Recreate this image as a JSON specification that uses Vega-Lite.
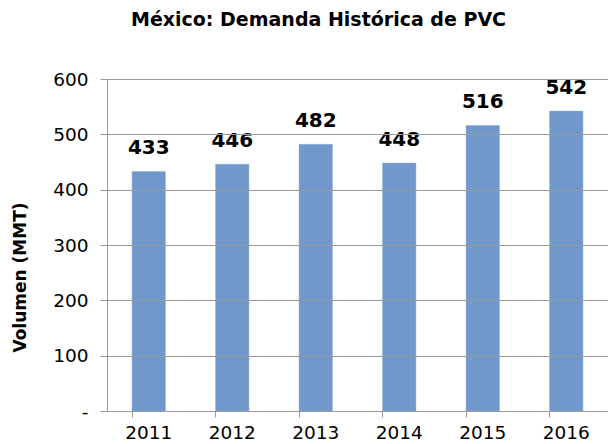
{
  "$schema": "https://vega.github.io/schema/vega-lite/v6.json",
  "autosize": "none",
  "width": 501,
  "height": 332,
  "padding": {"left": 107, "top": 79, "right": 0, "bottom": 33},
  "background": "white",
  "title": {
    "text": "México: Demanda Histórica de PVC",
    "font": "DejaVu Sans",
    "fontSize": 19,
    "fontWeight": "bold",
    "color": "#000000",
    "anchor": "middle",
    "dx": -39,
    "offset": 40,
    "frame": "group"
  },
  "config": {
    "view": {"stroke": null},
    "title": {"orient": "top"}
  },
  "data": {
    "values": [
      {"year": "2011", "value": 433},
      {"year": "2012", "value": 446},
      {"year": "2013", "value": 482},
      {"year": "2014", "value": 448},
      {"year": "2015", "value": 516},
      {"year": "2016", "value": 542}
    ]
  },
  "encoding": {
    "x": {
      "field": "year",
      "type": "nominal",
      "scale": {"paddingInner": 0.6, "paddingOuter": 0.3},
      "axis": {
        "title": null,
        "labelAngle": 0,
        "labelFont": "DejaVu Sans",
        "labelFontSize": 18.5,
        "labelColor": "#000000",
        "labelPadding": 6,
        "bandPosition": 0,
        "tickSize": 6,
        "tickColor": "#999999",
        "domainColor": "#999999",
        "grid": false
      }
    },
    "y": {
      "field": "value",
      "type": "quantitative",
      "scale": {"domain": [0, 600], "nice": false},
      "axis": {
        "title": "Volumen (MMT)",
        "titleFont": "DejaVu Sans",
        "titleFontSize": 17,
        "titleFontWeight": "bold",
        "titleColor": "#000000",
        "titleAngle": -90,
        "titleX": -87,
        "titleY": 198,
        "titleAlign": "center",
        "titleBaseline": "middle",
        "values": [0, 100, 200, 300, 400, 500, 600],
        "labelExpr": "datum.value == 0 ? '-' : datum.label",
        "labelFont": "DejaVu Sans",
        "labelFontSize": 18.5,
        "labelColor": "#000000",
        "labelPadding": 12,
        "tickSize": 7,
        "tickColor": "#999999",
        "domainColor": "#999999",
        "grid": true,
        "gridColor": "#999999",
        "gridWidth": 1,
        "zindex": 1
      }
    }
  },
  "layer": [
    {
      "mark": {"type": "bar", "color": "#7098CB", "stroke": "#8AAEDB", "strokeWidth": 0.5}
    },
    {
      "mark": {
        "type": "text",
        "font": "DejaVu Sans",
        "fontSize": 20,
        "fontWeight": "bold",
        "color": "#000000",
        "baseline": "alphabetic",
        "dy": -17
      },
      "encoding": {"text": {"field": "value", "type": "quantitative"}}
    }
  ]
}
